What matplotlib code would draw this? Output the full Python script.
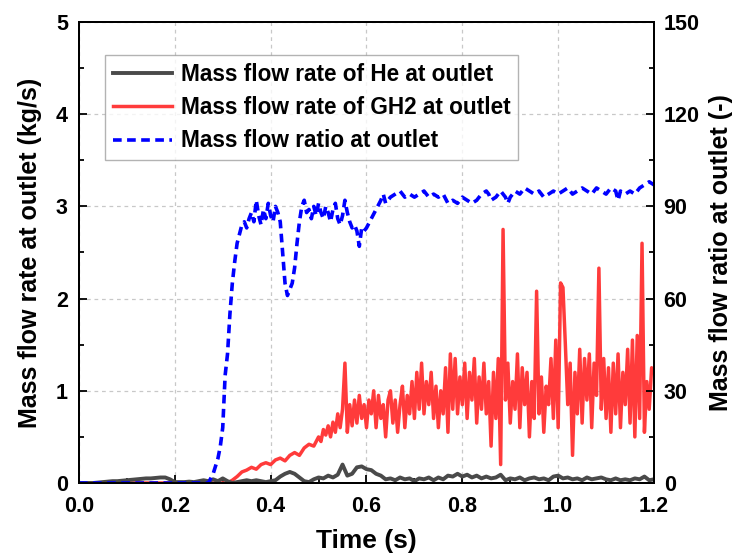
import numpy as np
import matplotlib
matplotlib.use("Agg")
import matplotlib.pyplot as plt
from matplotlib.ticker import MultipleLocator

plt.rcParams['font.family'] = ['Liberation Sans', 'DejaVu Sans']
plt.rcParams['font.weight'] = 'bold'

# He mass flow rate (kg/s), every 0.01 s
t_he = np.round(np.arange(0, 1.2001, 0.01), 3)
m_he = [0, 0, 0, 0, 0.005, 0.01, 0.015, 0.02, 0.02, 0.025,
        0.03, 0.035, 0.04, 0.045, 0.05, 0.05, 0.055, 0.06, 0.06, 0.04,
        0.01, 0.01, 0.01, 0.015, 0.01, 0.02, 0.03, 0.02, 0.04, 0.02,
        0.05, 0.02, 0.0, 0.01, 0.02, 0.03, 0.02, 0.03, 0.02, 0.01,
        0.02, 0.03, 0.07, 0.1, 0.12, 0.1, 0.06, 0.02, 0.01, 0.04,
        0.06, 0.05, 0.08, 0.06, 0.09, 0.2, 0.08, 0.1, 0.17, 0.18,
        0.15, 0.14, 0.1, 0.08, 0.04, 0.05, 0.03, 0.06, 0.04, 0.05,
        0.02, 0.05, 0.04, 0.06, 0.03, 0.06, 0.04, 0.08, 0.07, 0.1,
        0.07, 0.09, 0.06, 0.08, 0.05, 0.07, 0.05, 0.06, 0.09, 0.03,
        0.05, 0.04, 0.06, 0.03, 0.05, 0.06, 0.04, 0.05, 0.03, 0.07,
        0.08, 0.05, 0.06, 0.04, 0.05, 0.03, 0.06, 0.04, 0.05, 0.06,
        0.04, 0.03, 0.05, 0.03, 0.04, 0.03, 0.05, 0.04, 0.07, 0.03,
        0.04]

# GH2 mass flow rate (kg/s)
t_gh2 = np.concatenate([np.round(np.arange(0, 0.5001, 0.01), 3),
                        np.round(np.arange(0.505, 1.2001, 0.005), 3)])
m_gh2 = ([0.0] * 31 +
         [0.0, 0.03, 0.07, 0.12, 0.14, 0.17, 0.15, 0.2, 0.22, 0.2,
          0.25, 0.27, 0.24, 0.3, 0.33, 0.3, 0.38, 0.42, 0.4, 0.5] +
         [0.45, 0.58, 0.52, 0.62, 0.5, 0.66, 0.55, 0.75, 0.6, 0.8,
          1.3, 0.55, 0.85, 0.62, 0.9, 0.65, 0.95, 0.7, 0.85, 0.6,
          0.9, 0.75, 1.0, 0.6, 0.95, 0.7, 0.85, 0.5, 0.9, 1.0,
          0.65, 0.9, 0.55, 0.85, 1.05, 0.6, 0.95, 0.75, 1.1, 0.7,
          1.2, 0.8, 1.3, 0.75, 1.1, 0.85, 1.2, 0.7, 1.05, 0.6,
          1.0, 0.75, 1.25, 0.55, 1.4, 0.8, 1.35, 0.75, 1.15, 0.85,
          1.3, 0.7, 1.2, 0.9, 1.35, 0.65, 1.15, 0.8, 1.3, 0.75,
          1.1, 0.4, 1.2, 0.7, 1.35, 0.2, 2.75, 0.9, 1.3, 0.65,
          1.1, 0.8, 1.4, 0.6, 1.25, 0.85, 1.2, 0.5, 1.1, 0.7,
          2.08, 0.75, 1.15, 0.55, 1.05, 0.85, 1.35, 0.7, 1.55, 0.6,
          2.17, 2.12, 1.5, 0.85, 1.3, 0.3, 1.2, 0.75, 1.45, 0.65,
          1.35, 0.9, 1.4, 0.6, 1.3, 0.95, 2.33, 0.8, 1.35, 0.7,
          1.25, 0.55, 1.3, 0.75, 1.4, 0.6, 1.2, 0.85, 1.45, 0.65,
          1.55, 0.5, 1.6, 0.7, 2.6, 0.55, 1.1, 0.8, 1.25, 1.2])

# mass flow ratio (-)
t_ratio = [0.0, 0.27, 0.28, 0.29, 0.295, 0.30, 0.305, 0.31, 0.315, 0.32,
           0.325, 0.33, 0.335, 0.34, 0.345, 0.35, 0.355, 0.36, 0.365, 0.37,
           0.375, 0.38, 0.385, 0.39, 0.395, 0.40, 0.405, 0.41, 0.415, 0.42,
           0.425, 0.43, 0.435, 0.44, 0.445, 0.45, 0.455, 0.46, 0.465, 0.47,
           0.475, 0.48, 0.485, 0.49, 0.495, 0.50, 0.505, 0.51, 0.515, 0.52,
           0.525, 0.53, 0.535, 0.54, 0.545, 0.55, 0.555, 0.56, 0.565, 0.57,
           0.575, 0.58, 0.585, 0.59, 0.595, 0.60, 0.61, 0.62, 0.63, 0.635,
           0.64, 0.65, 0.66, 0.67, 0.68, 0.69, 0.70, 0.71, 0.72, 0.73,
           0.74, 0.75, 0.76, 0.77, 0.78, 0.79, 0.80, 0.81, 0.82, 0.83,
           0.84, 0.85, 0.855, 0.86, 0.87, 0.88, 0.89, 0.895, 0.90, 0.91,
           0.92, 0.93, 0.94, 0.95, 0.96, 0.97, 0.98, 0.99, 1.0, 1.01,
           1.02, 1.03, 1.04, 1.05, 1.06, 1.07, 1.08, 1.09, 1.10, 1.11,
           1.12, 1.125, 1.13, 1.14, 1.15, 1.16, 1.17, 1.18, 1.19, 1.2]
ratio = [0, 0, 3, 8, 12, 18, 35, 42, 55, 65,
         72, 78, 81, 84, 85, 83, 86, 88, 85, 92,
         87, 84, 89, 86, 91, 87, 85, 90, 88, 85,
         75, 65, 61, 63, 65, 70, 78, 85, 90, 92,
         88, 89, 86, 90, 87, 91, 88, 86, 90, 88,
         85, 89, 91, 86, 84, 87, 92, 88, 85, 83,
         84, 82, 77, 83, 82, 83, 86, 89, 92, 94,
         91, 93, 94, 95, 93, 94, 93, 94, 95, 93,
         94, 93, 94, 91, 92, 91, 93, 92, 91, 92,
         94, 95, 94, 92, 93, 95, 93, 91, 93, 95,
         94, 96, 95, 94, 95, 93, 94, 95, 94, 95,
         96, 94, 95, 96, 95, 94, 96, 95, 94, 96,
         95, 92, 95, 94, 95, 94, 96, 97, 98, 97]

fig = plt.figure(figsize=(7.36, 5.58), dpi=100)
ax = fig.add_axes([0.1073, 0.1344, 0.7813, 0.8262])
ax2 = ax.twinx()

l2, = ax.plot(t_gh2, m_gh2, color='#ff3b3b', lw=2.5, zorder=2,
              label='Mass flow rate of GH2 at outlet')
l1, = ax.plot(t_he, m_he, color='#4a4a4a', lw=2.8, zorder=3,
              label='Mass flow rate of He at outlet')
l3, = ax2.plot(t_ratio, ratio, color='#0000ff', lw=2.6, ls=(0, (2.4, 1.5)),
               label='Mass flow ratio at outlet')

ax.set_xlim(0, 1.2)
ax.set_ylim(0, 5)
ax2.set_ylim(0, 150)
ax.xaxis.set_major_locator(MultipleLocator(0.2))
ax.xaxis.set_minor_locator(MultipleLocator(0.1))
ax.yaxis.set_major_locator(MultipleLocator(1))
ax.yaxis.set_minor_locator(MultipleLocator(0.5))
ax2.yaxis.set_major_locator(MultipleLocator(30))
ax2.yaxis.set_minor_locator(MultipleLocator(15))
ax.xaxis.set_major_formatter(plt.FuncFormatter(lambda v, p: '%.1f' % v))

ax.grid(True, which='major', ls=(0, (3, 3)), color='#c8c8c8', lw=0.9)
for a in (ax, ax2):
    a.tick_params(which='both', direction='in', labelsize=15.5, width=1.3)
    a.tick_params(which='major', length=6)
    a.tick_params(which='minor', length=3.5)
    for s in a.spines.values():
        s.set_linewidth(1.4)
ax.tick_params(axis='x', pad=9)
ax.tick_params(axis='y', pad=8)
ax2.tick_params(axis='y', pad=7)

ax.set_xlabel('Time (s)', fontsize=19, fontweight='bold', labelpad=9)
ax.set_ylabel('Mass flow rate at outlet (kg/s)', fontsize=18, fontweight='bold', labelpad=10)
ax2.set_ylabel('Mass flow ratio at outlet (-)', fontsize=18, fontweight='bold', labelpad=7)

leg = ax2.legend(handles=[l1, l2, l3], loc='upper left', bbox_to_anchor=(0.045, 0.928),
                 fontsize=16.3, frameon=True, fancybox=False, edgecolor='#a0a0a0',
                 handlelength=2.6, handletextpad=0.4, labelspacing=0.45,
                 borderpad=0.35, borderaxespad=0)
leg.get_frame().set_linewidth(1.0)

fig.savefig('out.png', dpi=100)
